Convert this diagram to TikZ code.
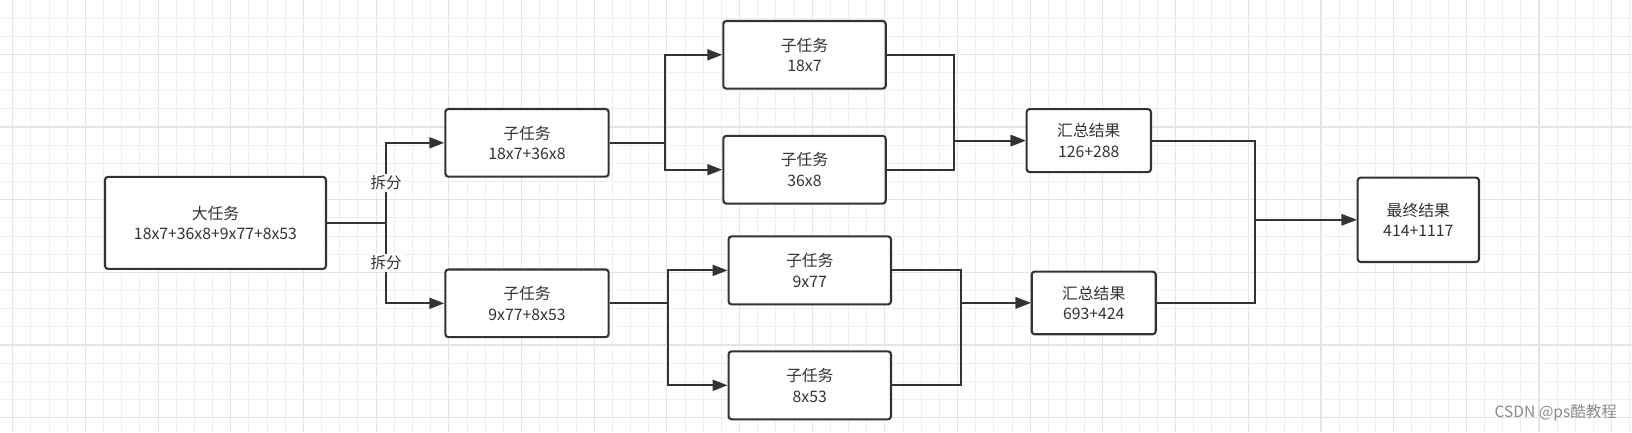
\documentclass[tikz,border=0pt]{standalone}
\usepackage{fontspec}
\setmainfont{Noto Sans CJK SC}
\usetikzlibrary{arrows.meta,calc}
\definecolor{ink}{HTML}{333333}
\definecolor{gridminor}{HTML}{EFEFEF}
\definecolor{gridmajor}{HTML}{E4E4E4}
\definecolor{wm}{HTML}{8A8A8A}
\begin{document}
\begin{tikzpicture}[x=1pt,y=-1pt,
  box/.style={draw=ink, line width=2.1pt, rounded corners=3pt, fill=white, align=center, text=ink, font=\fontsize{15.8}{20.5}\selectfont, inner sep=0pt},
  arr/.style={draw=ink, line width=2pt, -{Triangle[length=15pt,width=11pt]}},
  ln/.style={draw=ink, line width=2pt},
  lbl/.style={fill=white, text=ink, font=\fontsize{15.5}{17}\selectfont, inner sep=1.5pt}]
\fill[white] (0,0) rectangle (1632,432);
\useasboundingbox (0,0) rectangle (1632,432);
% grid
\foreach \k in {0,...,89} {
  \pgfmathsetmacro\gx{12.7+18.17*\k}
  \pgfmathtruncatemacro\m{mod(\k,4)}
  \ifnum\m=0
    \draw[gridmajor,line width=1.1pt] (\gx,0) -- (\gx,432);
  \else
    \draw[gridminor,line width=0.9pt] (\gx,0) -- (\gx,432);
  \fi
}
\foreach \k in {0,...,23} {
  \pgfmathsetmacro\gy{-0.21+18.17*\k}
  \pgfmathtruncatemacro\m{mod(\k,4)}
  \ifnum\m=3
    \draw[gridmajor,line width=1.1pt] (0,\gy) -- (1632,\gy);
  \else
    \draw[gridminor,line width=0.9pt] (0,\gy) -- (1632,\gy);
  \fi
}
% nodes
\node[box, minimum width=221pt, minimum height=92pt] (big) at (215.5,222.9) {大任务\\18x7+36x8+9x77+8x53};
\node[box, minimum width=163.3pt, minimum height=67.7pt] (s1) at (527,142.8) {子任务\\18x7+36x8};
\node[box, minimum width=163.3pt, minimum height=67.7pt] (s2) at (527,303.3) {子任务\\9x77+8x53};
\node[box, minimum width=162.4pt, minimum height=67.7pt] (a) at (804.5,54.8) {子任务\\18x7};
\node[box, minimum width=162.4pt, minimum height=67.7pt] (b) at (804.5,169.7) {子任务\\36x8};
\node[box, minimum width=162.4pt, minimum height=68pt] (c) at (809.8,270.4) {子任务\\9x77};
\node[box, minimum width=162.4pt, minimum height=68pt] (d) at (809.8,385.3) {子任务\\8x53};
\node[box, minimum width=124.3pt, minimum height=63pt] (r1) at (1088.8,140.6) {汇总结果\\126+288};
\node[box, minimum width=124pt, minimum height=62.6pt] (r2) at (1093.7,302.9) {汇总结果\\693+424};
\node[box, minimum width=121.3pt, minimum height=84.4pt] (fin) at (1418.3,219.8) {最终结果\\414+1117};
% connectors
\coordinate (sp) at ($(big.east)+(59,0)$);
\draw[ln] (big.east) -- (sp);
\draw[arr] (sp) |- node[lbl,pos=0.25] (l1) {拆分} (s1.west);
\draw[arr] (sp) |- node[lbl,pos=0.25] (l2) {拆分} (s2.west);
\coordinate (j1) at ($(s1.east)+(55.3,0)$);
\draw[ln] (s1.east) -- (j1);
\draw[arr] (j1) |- (a.west);
\draw[arr] (j1) |- (b.west);
\coordinate (j2) at ($(s2.east)+(58.3,0)$);
\draw[ln] (s2.east) -- (j2);
\draw[arr] (j2) |- (c.west);
\draw[arr] (j2) |- (d.west);
\coordinate (m1) at ($(r1.west)+(-71.2,0)$);
\draw[arr] (a.east) -| (m1) -- (r1.west);
\draw[arr] (b.east) -| (m1) -- (r1.west);
\coordinate (m2) at ($(r2.west)+(-70,0)$);
\draw[arr] (c.east) -| (m2) -- (r2.west);
\draw[arr] (d.east) -| (m2) -- (r2.west);
\coordinate (m3) at ($(fin.west)+(-101.7,0)$);
\draw[arr] (r1.east) -| (m3) -- (fin.west);
\draw[arr] (r2.east) -| (m3) -- (fin.west);
% watermark
\node[font=\fontsize{15.5}{15.5}\selectfont, text=wm, anchor=east, inner sep=0pt] (wmark) at (1617,413) {CSDN @ps酷教程};
\end{tikzpicture}
\end{document}
